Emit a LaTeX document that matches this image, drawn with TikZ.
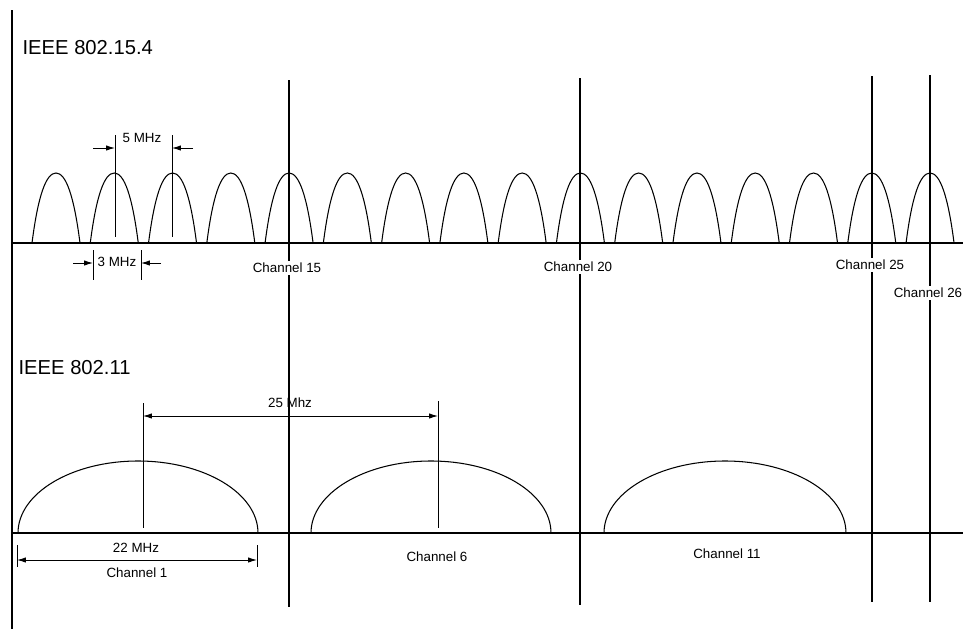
\documentclass[tikz,border=0pt]{standalone}
\usepackage{fontspec}
\setmainfont{Liberation Sans}
\usetikzlibrary{arrows.meta}

\tikzset{
  lbl/.style={font=\fontsize{7.6}{9}\selectfont, inner sep=1pt},
  chlbl/.style={lbl, fill=white},
  title/.style={font=\fontsize{11.5}{13}\selectfont, anchor=west, inner sep=0pt},
  bump/.style={line width=0.6pt},
  dim/.style={line width=0.5pt},
}

\begin{document}
\begin{tikzpicture}[x=0.02cm, y=-0.02cm, >={Latex[length=5pt,width=3pt]}, line width=0.7pt]
      \useasboundingbox (0,0) rectangle (964,629);
      % axes
      \draw (12,10) -- (12,629);
      \draw (12,243) -- (963,243);
      \draw (12,533) -- (963,533);

      % IEEE 802.15.4
      \node[title] (t154) at (22,48) {IEEE 802.15.4};
      \foreach \k [evaluate=\k as \c using 56+58.27*\k] in {0,...,15} {
          \draw[bump] (\c-24,243) .. controls (\c-18,196) and (\c-10,173) .. (\c,173)
            .. controls (\c+10,173) and (\c+18,196) .. (\c+24,243);
        }
      \foreach \n/\x/\a/\b/\y in {15/289/80/607/268,20/580/78/605/267,25/872/76/602/265,26/930/75/602/293} {
          \draw (\x,\a) -- (\x,\b);
          \node[chlbl] (ch\n) at (\x-2,\y) {Channel \n};
        }

      % 5 MHz
      \draw[dim] (115,135) -- (115,237) (172,135) -- (172,237);
      \coordinate (fl) at (93,148);
      \coordinate (fa) at (115,148);
      \coordinate (fb) at (172,148);
      \coordinate (fr) at (193,148);
      \draw[dim, ->] (fl) -- (fa);
      \draw[dim, ->] (fr) -- (fb);
      \node[lbl] (five) at (142,138) {5 MHz};

      % 3 MHz
      \draw[dim] (93,250) -- (93,280) (141,250) -- (141,280);
      \coordinate (tl) at (73,263);
      \coordinate (ta) at (93,263);
      \coordinate (tb) at (141,263);
      \coordinate (tr) at (161,263);
      \draw[dim, ->] (tl) -- (ta);
      \draw[dim, ->] (tr) -- (tb);
      \node[lbl] (three) at (117,262) {3 MHz};

      % IEEE 802.11
      \node[title] (t11) at (18,368) {IEEE 802.11};
      \foreach \c/\r in {138/120,431/120,725/121} {
          \draw[bump] (\c-\r,533) arc (180:360:\r\space and 72);
        }
      \node[lbl] (ch1) at (137,573) {Channel 1};
      \node[lbl] (ch6) at (437,557) {Channel 6};
      \node[lbl] (ch11) at (727,554) {Channel 11};

      % 25 Mhz
      \draw[dim] (143,403) -- (143,528) (438,401) -- (438,528);
      \coordinate (wa) at (143,416);
      \coordinate (wb) at (438,416);
      \draw[dim, <->] (wa) -- (wb);
      \node[lbl] (twentyfive) at (290,403) {25 Mhz};

      % 22 MHz
      \draw[dim] (17,545) -- (17,567) (257,545) -- (257,567);
      \coordinate (na) at (17,560);
      \coordinate (nb) at (257,560);
      \draw[dim, <->] (na) -- (nb);
      \node[lbl] (twentytwo) at (136,548) {22 MHz};
    \end{tikzpicture}
\end{document}
